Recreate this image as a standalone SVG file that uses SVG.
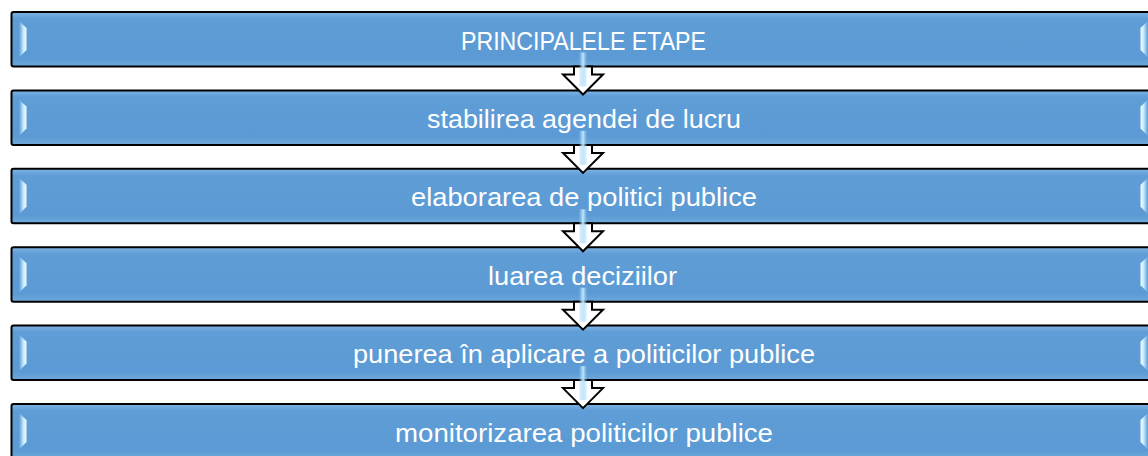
<svg xmlns="http://www.w3.org/2000/svg" width="1148" height="456" viewBox="0 0 1148 456">
<style>
.box{fill:url(#bg);stroke:#000;stroke-width:2}
.lbl{font-family:"Liberation Sans",Arial,sans-serif;font-size:26.5px;fill:#fff;text-anchor:middle}
.hl{fill:url(#hlL)}
.hr{fill:url(#hlR)}
.arr{fill:#fff;stroke:#000;stroke-width:2;stroke-linejoin:miter}
.str{fill:url(#st)}
</style>
<defs>
<linearGradient id="bg" x1="0" y1="0" x2="0" y2="1">
<stop offset="0" stop-color="#7eb4e3"/>
<stop offset="0.12" stop-color="#5f9dd6"/>
<stop offset="0.85" stop-color="#5b9ad4"/>
<stop offset="1" stop-color="#6fa9dc"/>
</linearGradient>
<linearGradient id="hlL" x1="0" y1="0" x2="1" y2="0">
<stop offset="0" stop-color="#5b9bd5"/>
<stop offset="0.6" stop-color="#c8ecff"/>
<stop offset="1" stop-color="#f0fcff"/>
</linearGradient>
<linearGradient id="hlR" x1="1" y1="0" x2="0" y2="0">
<stop offset="0" stop-color="#5b9bd5"/>
<stop offset="0.6" stop-color="#c8ecff"/>
<stop offset="1" stop-color="#f0fcff"/>
</linearGradient>
<linearGradient id="st" x1="0" y1="0" x2="1" y2="0">
<stop offset="0" stop-color="#8cc4f0" stop-opacity="0"/>
<stop offset="0.5" stop-color="#c4e8ff"/>
<stop offset="1" stop-color="#8cc4f0" stop-opacity="0"/>
</linearGradient>
<g id="deco">
<polygon class="hl" points="19,9 26.5,16 26.5,38 19,45.5"/>
<polygon class="hr" points="1148,9 1140.5,16 1140.5,38 1148,45.5"/>
</g>
</defs>

<g id="node1">
<rect class="box" x="11.5" y="12" width="1144" height="54.5" rx="2"/>
<use href="#deco" y="12"/>
<text class="lbl" x="583.5" y="49.5" textLength="245" lengthAdjust="spacingAndGlyphs">PRINCIPALELE ETAPE</text>
</g>
<g id="node2">
<rect class="box" x="11.5" y="90.4" width="1144" height="54.5" rx="2"/>
<use href="#deco" y="90.4"/>
<text class="lbl" x="584" y="127.9" textLength="314" lengthAdjust="spacingAndGlyphs">stabilirea agendei de lucru</text>
</g>
<g id="node3">
<rect class="box" x="11.5" y="168.8" width="1144" height="54.5" rx="2"/>
<use href="#deco" y="168.8"/>
<text class="lbl" x="584" y="206.3" textLength="346" lengthAdjust="spacingAndGlyphs">elaborarea de politici publice</text>
</g>
<g id="node4">
<rect class="box" x="11.5" y="247.2" width="1144" height="54.5" rx="2"/>
<use href="#deco" y="247.2"/>
<text class="lbl" x="582.5" y="284.7" textLength="189" lengthAdjust="spacingAndGlyphs">luarea deciziilor</text>
</g>
<g id="node5">
<rect class="box" x="11.5" y="325.6" width="1144" height="54.5" rx="2"/>
<use href="#deco" y="325.6"/>
<text class="lbl" x="584" y="363.1" textLength="462" lengthAdjust="spacingAndGlyphs">punerea în aplicare a politicilor publice</text>
</g>
<g id="node6">
<rect class="box" x="11.5" y="404" width="1144" height="54.5" rx="2"/>
<use href="#deco" y="404"/>
<text class="lbl" x="584" y="441.5" textLength="378" lengthAdjust="spacingAndGlyphs">monitorizarea politicilor publice</text>
</g>

<g id="connectors">
<g transform="translate(0,66.5)">
<polygon class="arr" points="574,0 574,8 563,8 583,28 603,8 592,8 592,0"/>
<rect class="str" x="578.5" y="-14" width="9" height="34"/>
</g>
<g transform="translate(0,144.9)">
<polygon class="arr" points="574,0 574,8 563,8 583,28 603,8 592,8 592,0"/>
<rect class="str" x="578.5" y="-14" width="9" height="34"/>
</g>
<g transform="translate(0,223.3)">
<polygon class="arr" points="574,0 574,8 563,8 583,28 603,8 592,8 592,0"/>
<rect class="str" x="578.5" y="-14" width="9" height="34"/>
</g>
<g transform="translate(0,301.7)">
<polygon class="arr" points="574,0 574,8 563,8 583,28 603,8 592,8 592,0"/>
<rect class="str" x="578.5" y="-14" width="9" height="34"/>
</g>
<g transform="translate(0,380.1)">
<polygon class="arr" points="574,0 574,8 563,8 583,28 603,8 592,8 592,0"/>
<rect class="str" x="578.5" y="-14" width="9" height="34"/>
</g>
</g>
</svg>
